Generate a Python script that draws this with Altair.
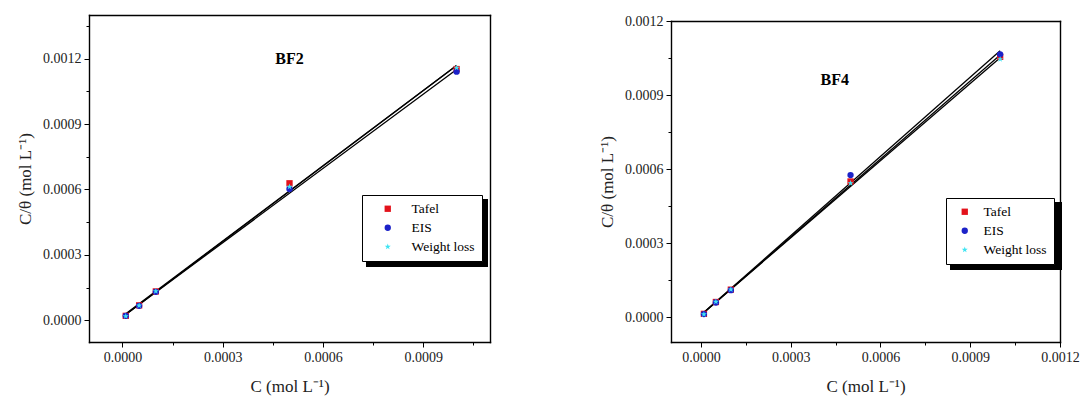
import altair as alt
import pandas as pd

# ---------------- data ----------------
conc = [0.00001, 0.00005, 0.0001, 0.0005, 0.001]
methods = ["Tafel", "EIS", "Weight loss"]

bf2_tafel = [0.000020, 0.000068, 0.000132, 0.000628, 0.001152]
bf2_eis = [0.000020, 0.000066, 0.000130, 0.000602, 0.001140]
bf2_wl = [0.000018, 0.000067, 0.000133, 0.000612, 0.001158]

bf4_tafel = [0.000014, 0.000062, 0.000112, 0.000550, 0.001055]
bf4_eis = [0.000013, 0.000060, 0.000110, 0.000576, 0.001065]
bf4_wl = [0.000012, 0.000063, 0.000113, 0.000543, 0.001045]

colors = ["#e3121b", "#1c22c8", "#3fe4f2"]
star = ("M0,-1L0.235,-0.324L0.951,-0.309L0.380,0.124L0.588,0.809L0,0.4"
        "L-0.588,0.809L-0.380,0.124L-0.951,-0.309L-0.235,-0.324Z")
shapes = ["square", "circle", star]

x_title = "C (mol L\u207b\u00b9)"
y_title = "C/\u03b8 (mol L\u207b\u00b9)"
FONT = "Liberation Serif"
H = 327


def make_df(t, e, w):
    rows = []
    for m, vals in zip(methods, [t, e, w]):
        for c, v in zip(conc, vals):
            rows.append({"C": c, "CT": v, "Method": m})
    return pd.DataFrame(rows)


def panel(df, xdom, ydom, xvals, yvals, xminor, yminor, w, top,
          label, lx, ly, legX, legY, legW, legH, symOff, labOff):
    xs = alt.Scale(domain=xdom, nice=False, zero=False)
    ys = alt.Scale(domain=ydom, nice=False, zero=False, range=[H, top])
    leg = alt.Legend(orient="none", legendX=legX, legendY=legY, title=None,
                     direction="vertical", strokeColor="black", fillColor="white",
                     padding=7, labelFont=FONT, labelFontSize=13.5, labelColor="black",
                     symbolSize=40, symbolOffset=symOff, labelOffset=labOff,
                     rowPadding=4, offset=0)

    shadow = alt.Chart(pd.DataFrame({"a": [0]})).mark_rect(color="black").encode(
        x=alt.value(legX + 4), x2=alt.value(legX + 4 + legW),
        y=alt.value(legY + 4), y2=alt.value(legY + 4 + legH))

    lines = alt.Chart(df).transform_regression(
        "C", "CT", groupby=["Method"]).mark_line(color="black", strokeWidth=1.3).encode(
        x=alt.X("C:Q", scale=xs, axis=None),
        y=alt.Y("CT:Q", scale=ys, axis=None),
        detail="Method:N")

    pts = alt.Chart(df).mark_point(filled=True, opacity=1, size=40).encode(
        x=alt.X("C:Q", scale=xs, axis=alt.Axis(values=xvals, format=".4f", title=x_title,
                                                 orient="bottom", titlePadding=14)),
        y=alt.Y("CT:Q", scale=ys, axis=alt.Axis(values=yvals, format=".4f", title=y_title,
                                                  orient="left", titlePadding=8)),
        color=alt.Color("Method:N", scale=alt.Scale(domain=methods, range=colors), legend=leg),
        shape=alt.Shape("Method:N", scale=alt.Scale(domain=methods, range=shapes), legend=leg),
    )

    minor = alt.Chart(df).mark_point(opacity=0).encode(
        x=alt.X("C:Q", scale=xs, axis=alt.Axis(values=xminor, labels=False, domain=False,
                                                 tickSize=3, title=None, orient="bottom")),
        y=alt.Y("CT:Q", scale=ys, axis=alt.Axis(values=yminor, labels=False, domain=False,
                                                  tickSize=3, title=None, orient="left")),
    )

    frame = alt.Chart(df).mark_point(opacity=0).encode(
        x=alt.X("C:Q", scale=xs, axis=alt.Axis(orient="top", labels=False, ticks=False,
                                                 title=None, domain=True, offset=-top)),
        y=alt.Y("CT:Q", scale=ys, axis=alt.Axis(orient="right", labels=False, ticks=False,
                                                  title=None, domain=True)),
    )

    txt = alt.Chart(pd.DataFrame({"C": [lx], "CT": [ly], "t": [label]})).mark_text(
        font=FONT, fontWeight="bold", fontSize=16, color="black").encode(
        x=alt.X("C:Q", scale=xs, axis=None),
        y=alt.Y("CT:Q", scale=ys, axis=None),
        text="t:N")

    return alt.layer(shadow, lines, pts, minor, frame, txt).resolve_axis(
        x="independent", y="independent").properties(width=w, height=H)


left = panel(make_df(bf2_tafel, bf2_eis, bf2_wl),
             [-0.0001, 0.0011], [-0.0001, 0.0014],
             [0, 0.0003, 0.0006, 0.0009], [0, 0.0003, 0.0006, 0.0009, 0.0012],
             [0.00015, 0.00045, 0.00075, 0.00105],
             [0.00015, 0.00045, 0.00075, 0.00105, 0.00135],
             401, 0, "BF2", 0.0005, 0.00120, 273, 180, 122, 68, 12, 17)

right = panel(make_df(bf4_tafel, bf4_eis, bf4_wl),
              [-0.0001, 0.0012], [-0.0001, 0.0012],
              [0, 0.0003, 0.0006, 0.0009, 0.0012], [0, 0.0003, 0.0006, 0.0009, 0.0012],
              [0.00015, 0.00045, 0.00075, 0.00105],
              [0.00015, 0.00045, 0.00075, 0.00105],
              389, 6, "BF4", 0.000447, 0.00096, 275, 183, 112, 68, 5, 12)

chart = alt.hconcat(left, right, spacing=108).resolve_scale(
    color="independent", shape="independent"
).properties(
    padding={"left": 16, "top": 14, "right": 5, "bottom": 5},
    background="white",
).configure_view(stroke=None).configure_axis(
    labelFont=FONT, labelFontSize=14, labelColor="#222222", labelFlush=False,
    titleFont=FONT, titleFontSize=17, titleFontWeight="normal", titleColor="#222222",
    domainColor="black", tickColor="black", grid=False, tickSize=5, labelPadding=3,
    domainWidth=1.4, domainCap="square"
)

chart.save("out.html", embed_options={"renderer": "svg", "actions": False})
